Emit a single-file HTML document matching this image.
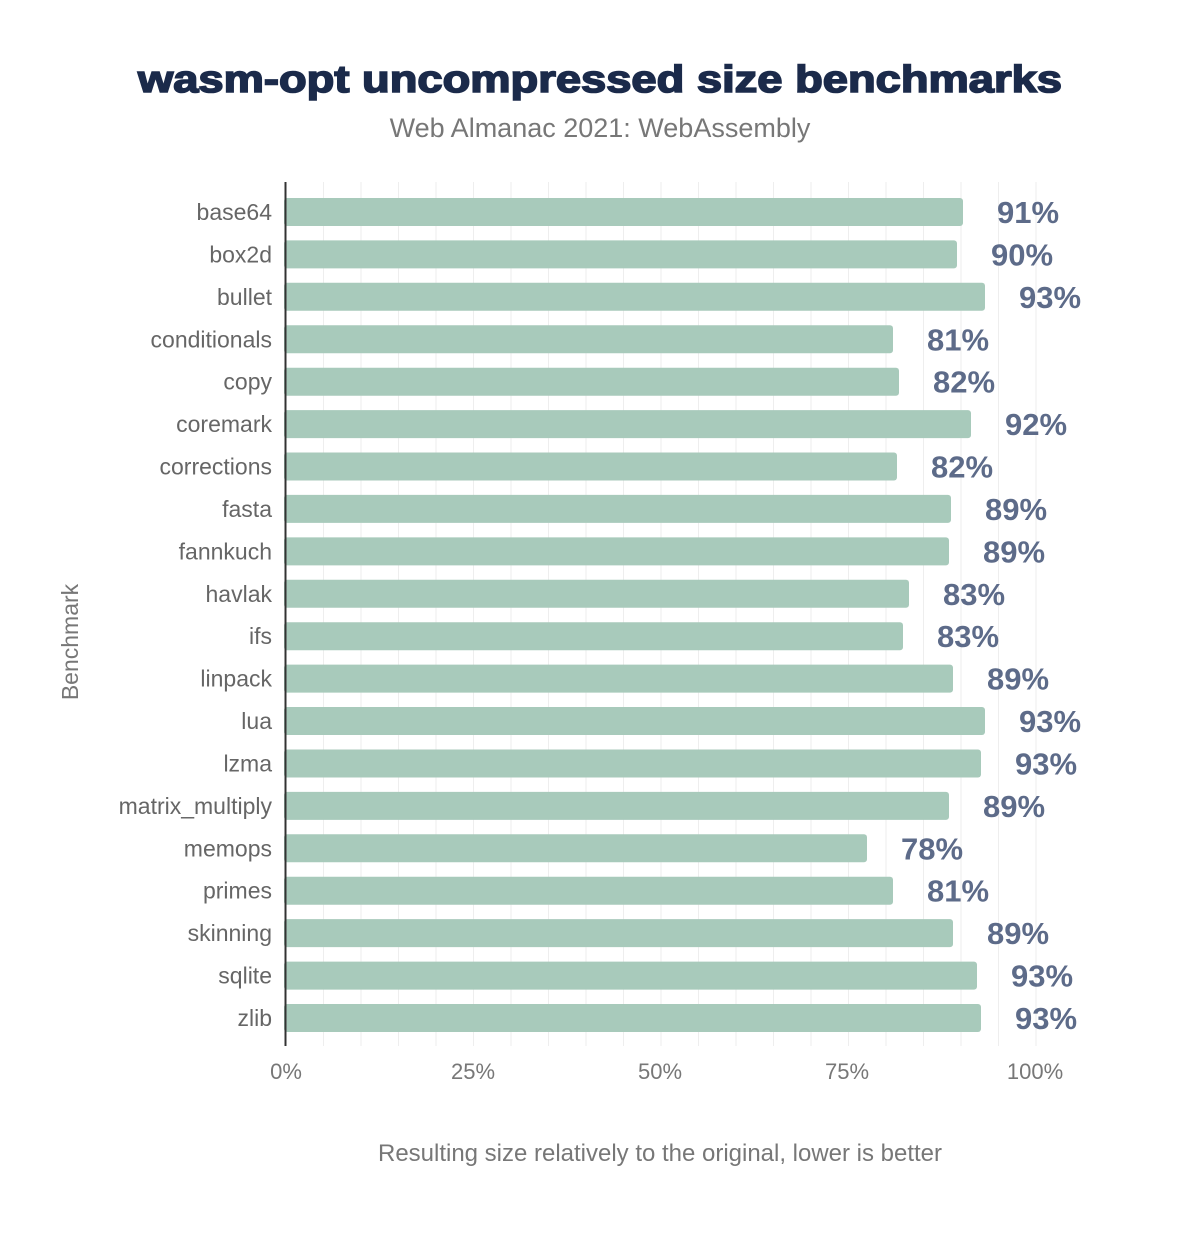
<!DOCTYPE html>
<html><head><meta charset="utf-8"><style>html,body{margin:0;padding:0;background:#fff}</style></head>
<body>
<svg width="1200" height="1230" xmlns="http://www.w3.org/2000/svg" font-family="Liberation Sans, Arial, sans-serif">
<rect width="1200" height="1230" fill="#fff"/>
<text x="600" y="92" text-anchor="middle" font-size="38" font-weight="bold" fill="#1b2a4a" stroke="#1b2a4a" stroke-width="1.6" textLength="924" lengthAdjust="spacingAndGlyphs">wasm-opt uncompressed size benchmarks</text>
<text x="600" y="137" text-anchor="middle" font-size="27" fill="#777">Web Almanac 2021: WebAssembly</text>
<g stroke="#eeeeee" stroke-width="1">
<line x1="323.5" x2="323.5" y1="182" y2="1046"/><line x1="361" x2="361" y1="182" y2="1046"/><line x1="398.5" x2="398.5" y1="182" y2="1046"/><line x1="436" x2="436" y1="182" y2="1046"/><line x1="473.5" x2="473.5" y1="182" y2="1046"/><line x1="511" x2="511" y1="182" y2="1046"/><line x1="548.5" x2="548.5" y1="182" y2="1046"/><line x1="586" x2="586" y1="182" y2="1046"/><line x1="623.5" x2="623.5" y1="182" y2="1046"/><line x1="661" x2="661" y1="182" y2="1046"/><line x1="698.5" x2="698.5" y1="182" y2="1046"/><line x1="736" x2="736" y1="182" y2="1046"/><line x1="773.5" x2="773.5" y1="182" y2="1046"/><line x1="811" x2="811" y1="182" y2="1046"/><line x1="848.5" x2="848.5" y1="182" y2="1046"/><line x1="886" x2="886" y1="182" y2="1046"/><line x1="923.5" x2="923.5" y1="182" y2="1046"/><line x1="961" x2="961" y1="182" y2="1046"/><line x1="998.5" x2="998.5" y1="182" y2="1046"/><line x1="1036" x2="1036" y1="182" y2="1046"/>
</g>
<g fill="#a8cabb">
<rect x="284" y="198" width="679" height="28" rx="3"/>
<rect x="284" y="240.4" width="673" height="28" rx="3"/>
<rect x="284" y="282.8" width="701" height="28" rx="3"/>
<rect x="284" y="325.3" width="609" height="28" rx="3"/>
<rect x="284" y="367.7" width="615" height="28" rx="3"/>
<rect x="284" y="410.1" width="687" height="28" rx="3"/>
<rect x="284" y="452.5" width="613" height="28" rx="3"/>
<rect x="284" y="494.9" width="667" height="28" rx="3"/>
<rect x="284" y="537.4" width="665" height="28" rx="3"/>
<rect x="284" y="579.8" width="625" height="28" rx="3"/>
<rect x="284" y="622.2" width="619" height="28" rx="3"/>
<rect x="284" y="664.6" width="669" height="28" rx="3"/>
<rect x="284" y="707" width="701" height="28" rx="3"/>
<rect x="284" y="749.5" width="697" height="28" rx="3"/>
<rect x="284" y="791.9" width="665" height="28" rx="3"/>
<rect x="284" y="834.3" width="583" height="28" rx="3"/>
<rect x="284" y="876.7" width="609" height="28" rx="3"/>
<rect x="284" y="919.1" width="669" height="28" rx="3"/>
<rect x="284" y="961.6" width="693" height="28" rx="3"/>
<rect x="284" y="1004" width="697" height="28" rx="3"/>
</g>
<g font-size="23" fill="#666" text-anchor="end">
<text x="272" y="220">base64</text>
<text x="272" y="262.4">box2d</text>
<text x="272" y="304.8">bullet</text>
<text x="272" y="347.3">conditionals</text>
<text x="272" y="389.7">copy</text>
<text x="272" y="432.1">coremark</text>
<text x="272" y="474.5">corrections</text>
<text x="272" y="516.9">fasta</text>
<text x="272" y="559.4">fannkuch</text>
<text x="272" y="601.8">havlak</text>
<text x="272" y="644.2">ifs</text>
<text x="272" y="686.6">linpack</text>
<text x="272" y="729">lua</text>
<text x="272" y="771.5">lzma</text>
<text x="272" y="813.9">matrix_multiply</text>
<text x="272" y="856.3">memops</text>
<text x="272" y="898.7">primes</text>
<text x="272" y="941.1">skinning</text>
<text x="272" y="983.6">sqlite</text>
<text x="272" y="1026">zlib</text>
</g>
<g font-size="31" font-weight="bold" fill="#5d6b89">
<text x="997" y="223">91%</text>
<text x="991" y="265.4">90%</text>
<text x="1019" y="307.8">93%</text>
<text x="927" y="350.3">81%</text>
<text x="933" y="392.7">82%</text>
<text x="1005" y="435.1">92%</text>
<text x="931" y="477.5">82%</text>
<text x="985" y="519.9">89%</text>
<text x="983" y="562.4">89%</text>
<text x="943" y="604.8">83%</text>
<text x="937" y="647.2">83%</text>
<text x="987" y="689.6">89%</text>
<text x="1019" y="732">93%</text>
<text x="1015" y="774.5">93%</text>
<text x="983" y="816.9">89%</text>
<text x="901" y="859.3">78%</text>
<text x="927" y="901.7">81%</text>
<text x="987" y="944.1">89%</text>
<text x="1011" y="986.6">93%</text>
<text x="1015" y="1029">93%</text>
</g>
<line x1="285.5" y1="182" x2="285.5" y2="1046" stroke="#333" stroke-width="2"/>
<g font-size="22" fill="#777" text-anchor="middle">
<text x="286" y="1079">0%</text><text x="473" y="1079">25%</text><text x="660" y="1079">50%</text><text x="847" y="1079">75%</text><text x="1035" y="1079">100%</text>
</g>
<text x="660" y="1161" text-anchor="middle" font-size="24" fill="#777" textLength="564" lengthAdjust="spacingAndGlyphs">Resulting size relatively to the original, lower is better</text>
<text transform="translate(78,642) rotate(-90)" text-anchor="middle" font-size="23" fill="#777">Benchmark</text>
</svg>
</body></html>
